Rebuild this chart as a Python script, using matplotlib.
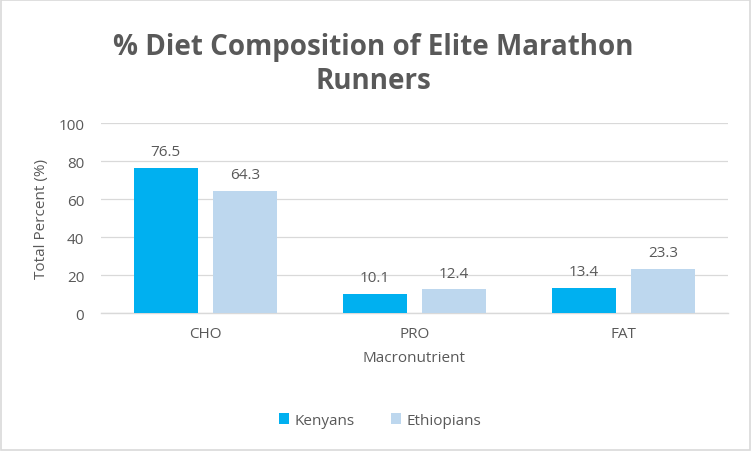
import matplotlib.pyplot as plt
import numpy as np
from matplotlib.patches import Rectangle

plt.rcParams['font.family'] = ['Open Sans', 'DejaVu Sans']

# chart data
categories = ["CHO", "PRO", "FAT"]
kenyans = [76.5, 10.1, 13.4]
ethiopians = [64.3, 12.4, 23.3]
series_names = ["Kenyans", "Ethiopians"]
colors = ["#00b0f0", "#bdd7ee"]
text_color = "#595959"

fig = plt.figure(figsize=(7.52, 4.52), dpi=100)
# outer border like the Excel chart frame
fig.patches.append(Rectangle((0.001, 0.003), 0.996, 0.995, transform=fig.transFigure,
                             fill=False, edgecolor="#d9d9d9", linewidth=1.2))

# plot area in pixels: x 101-728, y 124-314
ax = fig.add_axes([101 / 752, (452 - 314) / 452, 627 / 752, 190 / 452])

x = np.arange(len(categories))
width = 0.306
offset = 0.19
bars1 = ax.bar(x - offset, kenyans, width, color=colors[0], label=series_names[0], zorder=3)
bars2 = ax.bar(x + offset, ethiopians, width, color=colors[1], label=series_names[1], zorder=3)

for bars in (bars1, bars2):
    for b in bars:
        ax.annotate(f"{b.get_height():.1f}", (b.get_x() + b.get_width() / 2, b.get_height()),
                    xytext=(0, 6), textcoords="offset points", ha="center", va="bottom",
                    fontsize=11, color=text_color)

ax.set_xlim(-0.5, 2.5)
ax.set_ylim(0, 100)
ax.set_yticks(range(0, 101, 20))
ax.set_xticks(x)
ax.set_xticklabels(categories)
ax.tick_params(axis="both", length=0, labelsize=11, colors=text_color)
ax.tick_params(axis="y", pad=12)
ax.tick_params(axis="x", pad=9)
ax.grid(axis="y", color="#d9d9d9", linewidth=0.9, zorder=0)
for side in ("left", "right", "top"):
    ax.spines[side].set_visible(False)
ax.spines["bottom"].set_color("#d9d9d9")
ax.spines["bottom"].set_linewidth(1.0)

ax.set_ylabel("Total Percent (%)", fontsize=11, color=text_color, labelpad=7)
ax.set_xlabel("Macronutrient", fontsize=11, color=text_color, labelpad=7)

fig.text(0.497, 0.928, "% Diet Composition of Elite Marathon\nRunners", ha="center", va="top",
         fontsize=20, fontweight="bold", color=text_color, linespacing=1.27)

ax.legend(loc="center", bbox_to_anchor=(0.445, -0.565), ncol=2, frameon=False,
          fontsize=11, labelcolor=text_color, handlelength=0.65, handleheight=0.65,
          handletextpad=0.35, columnspacing=2.4)

plt.savefig("out.png", dpi=100)
